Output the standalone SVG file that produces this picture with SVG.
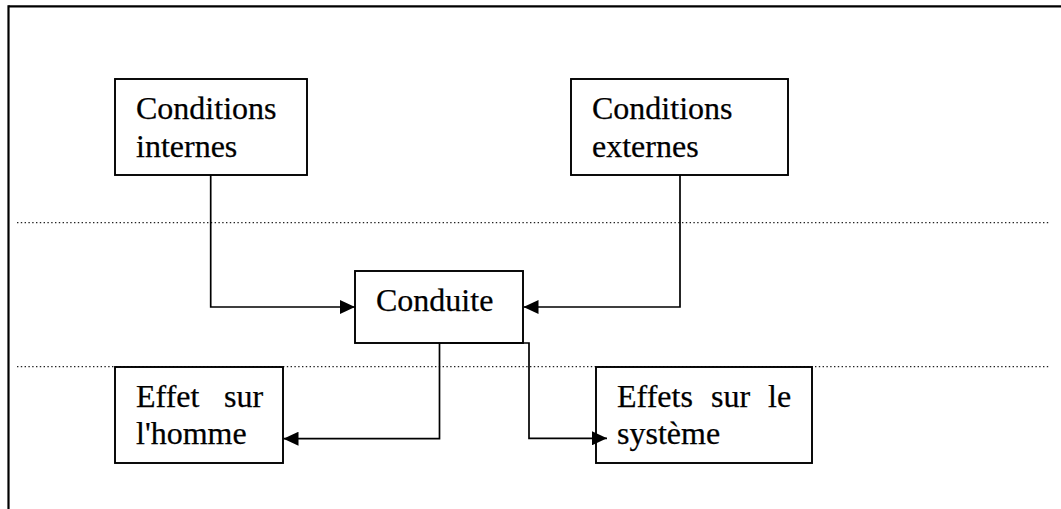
<svg xmlns="http://www.w3.org/2000/svg" width="1061" height="509" viewBox="0 0 1061 509">
<style>
.box{fill:#fff;stroke:#000;stroke-width:1.9}
.lbl{font-family:"Liberation Serif","Times New Roman",serif;font-size:32px;fill:#000;stroke:#000;stroke-width:0.25}
.con{fill:none;stroke:#000;stroke-width:1.7}
.dot{stroke:#222;stroke-width:1.3;stroke-dasharray:1.4 2.4}
.frame{stroke:#000;stroke-width:2.2}
</style>
<defs>
<marker id="ah" viewBox="0 0 15 14" refX="15" refY="7" markerWidth="15" markerHeight="14" markerUnits="userSpaceOnUse" orient="auto">
<path d="M0,0 L15,7 L0,14 z" fill="#000"/>
</marker>
</defs>
<rect width="1061" height="509" fill="#fff"/>
<g id="frame">
<line class="frame" x1="8.5" y1="6.3" x2="1061" y2="6.3"/>
<line class="frame" x1="8.5" y1="5.2" x2="8.5" y2="509"/>
<line class="dot" x1="17" y1="222.7" x2="1050" y2="222.7"/>
<line class="dot" x1="17" y1="366.7" x2="1050" y2="366.7"/>
</g>
<g id="conditions-internes">
<rect class="box" x="115" y="79" width="192" height="96"/>
<text class="lbl"><tspan x="136" y="119">Conditions</tspan><tspan x="136" y="157">internes</tspan></text>
</g>
<g id="conditions-externes">
<rect class="box" x="571" y="79" width="217" height="96"/>
<text class="lbl"><tspan x="592" y="119">Conditions</tspan><tspan x="592" y="157">externes</tspan></text>
</g>
<g id="conduite">
<rect class="box" x="355" y="271" width="168" height="72"/>
<text class="lbl" x="376" y="310.5">Conduite</text>
</g>
<g id="effet-homme">
<rect class="box" x="115" y="367" width="168" height="96"/>
<text class="lbl"><tspan x="136" y="406.7">Effet</tspan><tspan x="224" y="406.7">sur</tspan><tspan x="136" y="444">l'homme</tspan></text>
</g>
<g id="effets-systeme">
<rect class="box" x="596" y="367" width="216" height="96"/>
<text class="lbl"><tspan x="617" y="406.7">Effets</tspan><tspan x="711" y="406.7">sur</tspan><tspan x="768" y="406.7">le</tspan><tspan x="617" y="443.5">système</tspan></text>
</g>
<g id="connectors">
<path class="con" d="M210.7,175 V307 H355" marker-end="url(#ah)"/>
<path class="con" d="M680,175 V307 H523.5" marker-end="url(#ah)"/>
<path class="con" d="M439.5,343 V438.7 H283.5" marker-end="url(#ah)"/>
<path class="con" d="M450,343 H529 V438.3 H607" marker-end="url(#ah)"/>
</g>
</svg>
